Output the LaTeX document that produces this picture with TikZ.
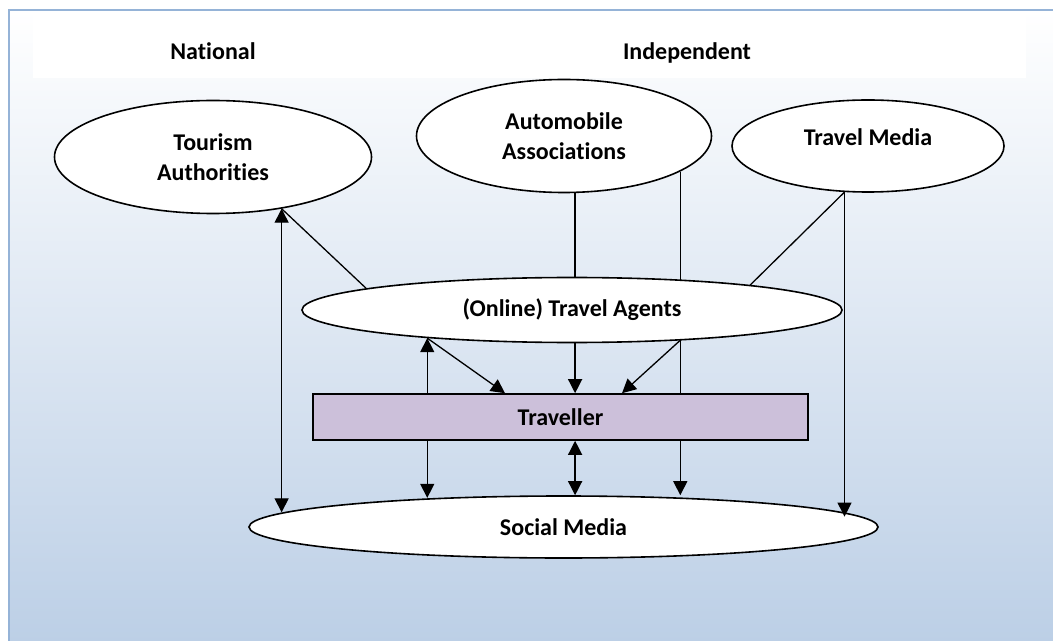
\documentclass[tikz,border=0pt]{standalone}
\usepackage{fontspec}
\setmainfont{Carlito}[Ligatures={NoCommon}]
\usepackage{tikz}
\usetikzlibrary{shapes,arrows.meta,calc,positioning}
\tikzstyle{oval}=[ellipse, draw=black, fill=white, line width=0.8, inner sep=0pt, align=center]
\tikzstyle{box}=[rectangle, draw=black, fill=mpurple, line width=0.8, inner sep=0pt]
\tikzstyle{l1}=[line width=0.65]
\tikzstyle{a1}=[l1, -{Triangle[length=7pt, width=7pt]}]
\tikzstyle{a2}=[l1, {Triangle[length=7pt, width=7pt]}-{Triangle[length=7pt, width=7pt]}]
\usepackage{xcolor}
\definecolor{mpurple}{HTML}{CCC0DA}
\definecolor{mframe}{HTML}{95B3D7}
\definecolor{mbg}{HTML}{B9CDE5}

\begin{document}
\begin{tikzpicture}[x=0.5pt, y=-0.5pt, font=\fontsize{12}{15}\selectfont\bfseries]
    \useasboundingbox (0,0) rectangle (1053,641);
    \clip (0,0) rectangle (1053,641);
    \shade[top color=white, bottom color=mbg] (9,10) rectangle (1080,670);
    \draw[mframe, line width=1] (9,10) rectangle (1080,670);
    \fill[white] (33,12) rectangle (1026,78);

    \node[anchor=base] (nat) at (213,60) {National};
    \node[anchor=base] (ind) at (687,60) {Independent};

    \node[oval, minimum width=158.5pt, minimum height=56.5pt] (ta) at (213,157) {Tourism\\Authorities};
    \node[oval, minimum width=147.5pt, minimum height=56.5pt] (aa) at (564,136) {Automobile\\Associations};
    \node[oval, minimum width=136pt, minimum height=46pt] (tm) at (868,146) {\raisebox{9pt}{Travel Media}};
    \node[oval, minimum width=270pt, minimum height=32.5pt] (oa) at (572,310) {(Online) Travel Agents};
    \node[box, minimum width=247.5pt, minimum height=23pt] (tr) at (560.5,417) {Traveller};
    \node[oval, minimum width=314.5pt, minimum height=31pt] (sm) at (563.5,527) {Social Media};

    % national
    \draw[a2] (ta.-37) -- (ta.-37 |- sm.177.2);
    \draw[l1] (ta.-37) -- (oa.174);

    % independent
    \draw[l1] (aa.-79) -- (aa.-79 |- oa.north);
    \draw[a1] (aa.-79 |- oa.south) -- (aa.-79 |- tr.north);
    \draw[a2] (aa.-79 |- tr.south) -- (aa.-79 |- sm.69.6);
    \draw[l1] (aa.-17) -- (aa.-17 |- oa.15.5);
    \draw[l1] (aa.-17 |- oa.-15.5) -- (aa.-17 |- tr.north);
    \draw[a1] (aa.-17 |- tr.south) -- (aa.-17 |- sm.76);
    \draw[l1] (tm.243) -- (oa.8.4);
    \draw[a1] (tm.243) -- (tm.243 |- sm.2.8);

    % agents and traveller
    \draw[a1] (oa.191.6) -- ([xshift=-27.75pt]tr.north);
    \draw[a1] (aa.-17 |- oa.-15.5) -- ([xshift=30.75pt]tr.north);
    \draw[a1] (oa.191.6 |- tr.north) -- (oa.191.6);
    \draw[a1] (oa.191.6 |- tr.south) -- (oa.191.6 |- sm.167.3);
\end{tikzpicture}
\end{document}
